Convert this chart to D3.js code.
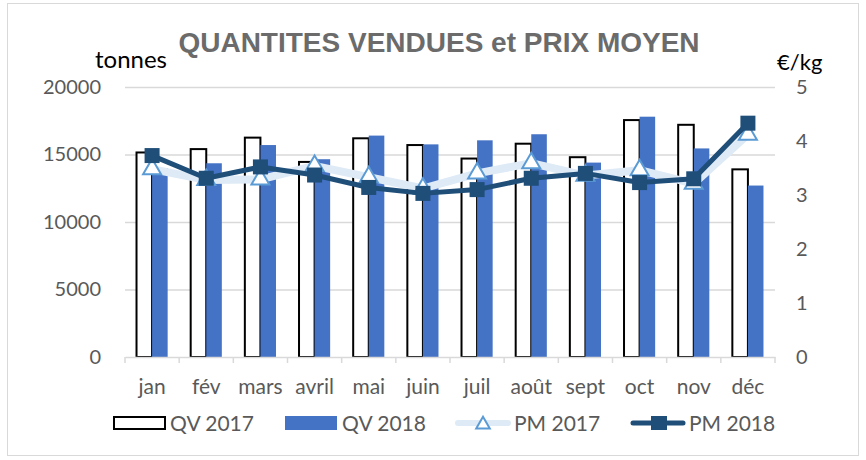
<!DOCTYPE html>
<html><head><meta charset="utf-8">
<script src="https://cdn.jsdelivr.net/npm/d3@7"></script>
<style>body{margin:0;background:#fff;} svg{display:block;}</style>
</head><body>
<svg id="chart" width="866" height="460"></svg>
<script>
const months = ["jan","fév","mars","avril","mai","juin","juil","août","sept","oct","nov","déc"];
const qv2017 = [15150,15400,16250,14450,16200,15700,14700,15800,14800,17550,17200,13900];
const qv2018 = [14000,14350,15700,14650,16400,15750,16050,16500,14400,17800,15450,12700];
const pm2017 = [3.48,3.28,3.29,3.54,3.33,3.12,3.40,3.59,3.36,3.46,3.21,4.12];
const pm2018 = [3.73,3.31,3.52,3.37,3.14,3.03,3.10,3.31,3.40,3.23,3.30,4.33];
const leftTicks = [0,5000,10000,15000,20000];
const rightTicks = [0,1,2,3,4,5];
const seriesNames = ["QV 2017","QV 2018","PM 2017","PM 2018"];

const svg = d3.select("#chart");
const FONT = "Lato, 'Open Sans', sans-serif";
const plot = {left:125, right:775, top:87, bottom:357};

// outer frame
svg.append("rect").attr("x",7.5).attr("y",3.5).attr("width",851).attr("height",452)
  .attr("fill","#fff").attr("stroke","#d9d9d9").attr("stroke-width",1);

const x = d3.scaleBand().domain(months).range([plot.left, plot.right]).paddingInner(0).paddingOuter(0);
const inner = d3.scaleBand().domain(["2017","2018"]).range([0, x.bandwidth()]).paddingInner(0).paddingOuter(0.74);
const yL = d3.scaleLinear().domain([0,20000]).range([plot.bottom, plot.top]);
const yR = d3.scaleLinear().domain([0,5]).range([plot.bottom, plot.top]);

// gridlines
svg.append("g").selectAll("line").data(leftTicks.slice(1)).join("line")
  .attr("x1",plot.left).attr("x2",plot.right)
  .attr("y1",d=>yL(d)+0.5).attr("y2",d=>yL(d)+0.5)
  .attr("stroke","#d9d9d9").attr("stroke-width",1.3);

// left axis
const gL = svg.append("g").attr("transform",`translate(${plot.left-24},0)`)
  .call(d3.axisLeft(yL).tickValues(leftTicks).tickSize(0).tickPadding(0).tickFormat(d3.format("d")));
gL.select(".domain").remove();
gL.selectAll("text").attr("font-family",FONT).attr("font-size",20).attr("fill","#595959");

// right axis
const gR = svg.append("g").attr("transform",`translate(${plot.right+21},0)`)
  .call(d3.axisRight(yR).tickValues(rightTicks).tickSize(0).tickPadding(0).tickFormat(d3.format("d")));
gR.select(".domain").remove();
gR.selectAll("text").attr("font-family",FONT).attr("font-size",20).attr("fill","#595959");

// bars
const groups = svg.append("g").selectAll("g").data(months).join("g")
  .attr("transform",d=>`translate(${x(d)},0)`);
groups.append("rect")
  .attr("x",inner("2017")).attr("width",inner.bandwidth())
  .attr("y",(d,i)=>yL(qv2017[i])).attr("height",(d,i)=>yL(0)-yL(qv2017[i]))
  .attr("fill","#fff").attr("stroke","#000").attr("stroke-width",2);
groups.append("rect")
  .attr("x",inner("2018")).attr("width",inner.bandwidth())
  .attr("y",(d,i)=>yL(qv2018[i])).attr("height",(d,i)=>yL(0)-yL(qv2018[i]))
  .attr("fill","#4472c4");

// x axis
const gX = svg.append("g").attr("transform",`translate(0,${plot.bottom})`)
  .call(d3.axisBottom(x).tickSize(0).tickPadding(22));
gX.select(".domain").attr("stroke","#d9d9d9").attr("stroke-width",1.5);
gX.selectAll("text").attr("font-family",FONT).attr("font-size",21).attr("fill","#595959");
svg.append("g").selectAll("line").data(months.concat(["end"])).join("line")
  .attr("x1",(d,i)=>plot.left + i*x.bandwidth()).attr("x2",(d,i)=>plot.left + i*x.bandwidth())
  .attr("y1",plot.bottom).attr("y2",plot.bottom+6).attr("stroke","#d9d9d9").attr("stroke-width",1.5);

const cx = d=>x(d)+x.bandwidth()/2;
const line17 = d3.line().x((d,i)=>cx(months[i])).y(d=>yR(d));
svg.append("path").datum(pm2017).attr("d",line17).attr("fill","none")
  .attr("stroke","#deeaf6").attr("stroke-width",8).attr("stroke-linejoin","round");
const tri = d3.symbol().type(d3.symbolTriangle).size(140);
svg.append("g").selectAll("path").data(pm2017).join("path")
  .attr("d",tri).attr("transform",(d,i)=>`translate(${cx(months[i])},${yR(d)})`)
  .attr("fill","#fff").attr("stroke","#5b9bd5").attr("stroke-width",2);

svg.append("path").datum(pm2018).attr("d",line17).attr("fill","none")
  .attr("stroke","#1f4e79").attr("stroke-width",5).attr("stroke-linejoin","round");
svg.append("g").selectAll("rect").data(pm2018).join("rect")
  .attr("x",(d,i)=>cx(months[i])-7.5).attr("y",d=>yR(d)-7.5).attr("width",15).attr("height",15)
  .attr("fill","#1f4e79");

// titles
svg.append("text").attr("x",439).attr("y",52).attr("text-anchor","middle")
  .attr("font-family","'Liberation Sans', Arial, sans-serif").attr("font-weight","bold").attr("font-size",28)
  .attr("fill","#6b6b6b").text("QUANTITES VENDUES et PRIX MOYEN");
svg.append("text").attr("x",131).attr("y",68).attr("text-anchor","middle")
  .attr("font-family",FONT).attr("font-size",24).attr("fill","#000").text("tonnes");
svg.append("text").attr("x",777).attr("y",70)
  .attr("font-family",FONT).attr("font-size",22).attr("fill","#000").text("€/kg");

// legend
const ly = 423;
const leg = svg.append("g");
leg.append("rect").attr("x",114).attr("y",ly-6).attr("width",51).attr("height",12)
  .attr("fill","#fff").attr("stroke","#000").attr("stroke-width",2);
leg.append("rect").attr("x",285).attr("y",ly-7).attr("width",52).attr("height",14).attr("fill","#4472c4");
leg.append("line").attr("x1",458).attr("x2",508).attr("y1",ly).attr("y2",ly)
  .attr("stroke","#deeaf6").attr("stroke-width",6).attr("stroke-linecap","round");
leg.append("path").attr("d",d3.symbol().type(d3.symbolTriangle).size(80))
  .attr("transform",`translate(483,${ly+1.5})`).attr("fill","#fff").attr("stroke","#5b9bd5").attr("stroke-width",2);
leg.append("line").attr("x1",633).attr("x2",683).attr("y1",ly).attr("y2",ly)
  .attr("stroke","#1f4e79").attr("stroke-width",5).attr("stroke-linecap","round");
leg.append("rect").attr("x",651).attr("y",ly-7).attr("width",16).attr("height",14).attr("fill","#1f4e79");
const lx = [170,342,514,689];
leg.selectAll("text.l").data(seriesNames).join("text").attr("class","l")
  .attr("x",(d,i)=>lx[i]).attr("y",ly+8)
  .attr("font-family",FONT).attr("font-size",21).attr("fill","#595959").text(d=>d);
</script>
</body></html>
